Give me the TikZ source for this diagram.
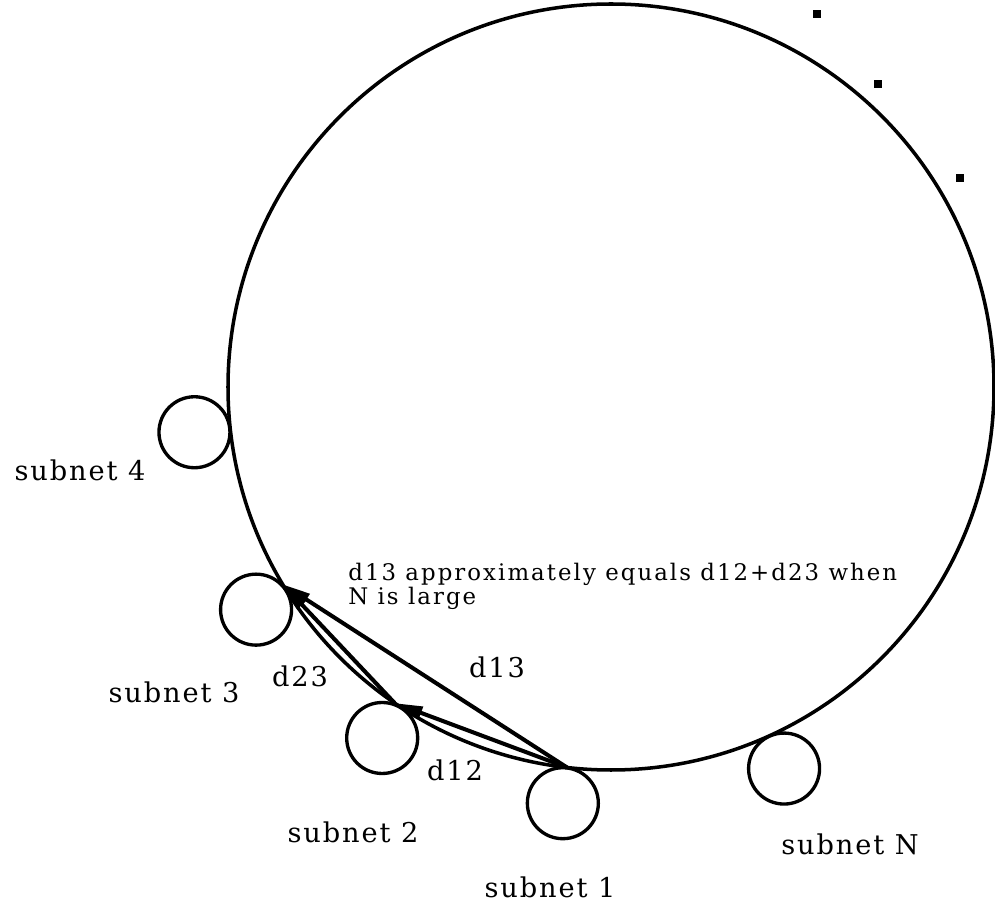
\documentclass[tikz,border=0pt]{standalone}
\usepackage{fontspec}
\setmainfont{DejaVu Serif}
\usetikzlibrary{arrows.meta}

\begin{document}
\begin{tikzpicture}[x=0.02cm, y=0.02cm,
    ring/.style={line width=2pt},
    subnet/.style={circle, draw, line width=1.9pt, inner sep=0pt, minimum size=1.42cm},
    lbl/.style={font=\fontsize{15.5}{18}\selectfont\addfontfeature{LetterSpace=7}, inner sep=0pt},
    note/.style={font=\fontsize{13}{13.7}\selectfont\addfontfeature{LetterSpace=9}, inner sep=0pt, align=left},
    hop/.style={line width=2.3pt, -{Triangle[length=16pt, width=7pt]}},
    far/.style={fill, minimum size=0.16cm, inner sep=0pt}]
  \useasboundingbox (0,0) rectangle (995,907);
  \coordinate (c) at (611,520);
  % the big ring
  \draw[ring] (c) circle[radius=383];
  % subnets sit outside the ring
  \foreach \a/\n in {186.2/4, 212.1/3, 236.9/2, 263.4/1, 294.4/N}
    \node[subnet] (s\n) at ([shift={(\a:419)}]c) {};
  % points where they touch it
  \coordinate (p1) at ([shift={(263.4:383)}]c);
  \coordinate (p2) at ([shift={(235.6:383)}]c);
  \coordinate (p3) at ([shift={(211.0:383)}]c);
  \draw[hop] (p1) -- (p2);
  \draw[hop] (p2) -- (p3);
  \draw[hop] (p1) -- (p3);
  % more subnets further round
  \node[far] (dt1) at (817,893) {};
  \node[far] (dt2) at (878,823) {};
  \node[far] (dt3) at (960,729) {};

  \node[lbl] (l4) at (80,437) {subnet 4};
  \node[lbl] (l3) at (174,215) {subnet 3};
  \node[lbl] (l2) at (353,75) {subnet 2};
  \node[lbl] (l1) at (550,20) {subnet 1};
  \node[lbl] (lN) at (850,63) {subnet N};
  \node[lbl] (d23) at (300,231) {d23};
  \node[lbl] (d13) at (497,240) {d13};
  \node[lbl] (d12) at (455,137) {d12};
  \node[note, anchor=north west] (eq) at (348,344)
    {d13 approximately equals d12+d23 when\\N is large};
\end{tikzpicture}
\end{document}
